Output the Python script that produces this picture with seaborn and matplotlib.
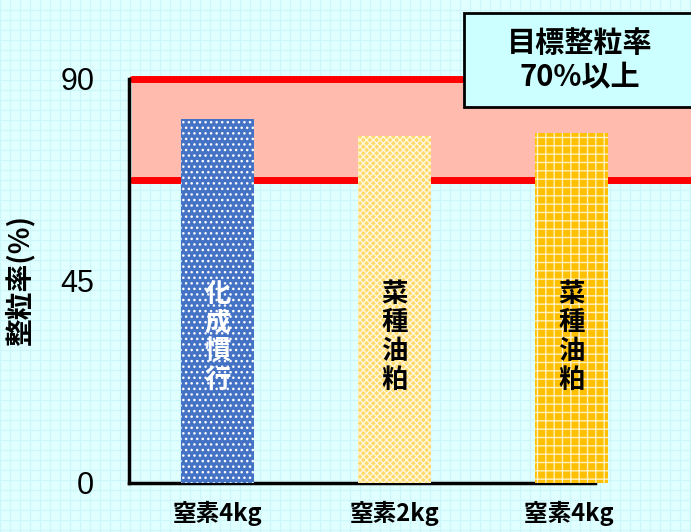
import matplotlib
matplotlib.use("Agg")
import matplotlib.pyplot as plt
from matplotlib.patches import Rectangle
import numpy as np
import pandas as pd
import seaborn as sns

# Data
categories = ["窒素4kg", "窒素2kg", "窒素4kg "]
treatments = ["化成慣行", "菜種油粕", "菜種油粕"]
rates = [81.0, 77.3, 77.9]
target_low = 67.5
target_high = 90
y_ticks = [0, 45, 90]
target_text = "目標整粒率\n70%以上"
y_label = "整粒率(%)"

bar_colors = ["#4472C4", "#FFD966", "#FFC000"]
hatch_colors = ["white", "#FFF6DC", "#FFF0C0"]
hatches = ["...", "xxxxx", "++"]
label_colors = ["white", "black", "black"]

sns.set_style("white")
plt.rcParams["font.family"] = ["Noto Sans CJK JP", "DejaVu Sans"]
plt.rcParams["hatch.linewidth"] = 1.0

W, H = 691, 532
fig = plt.figure(figsize=(W / 100, H / 100), dpi=100)
fig.patch.set_facecolor("#E0FFFF")

# graph-paper background
bg = fig.add_axes([0, 0, 1, 1], zorder=0)
bg.set_xlim(0, W)
bg.set_ylim(0, H)
bg.set_facecolor("#E0FFFF")
bg.set_xticks(np.arange(0, W, 10))
bg.set_yticks(np.arange(2, H, 10))
bg.grid(True, color="#CBF6FA", lw=0.9)
bg.tick_params(length=0, labelbottom=False, labelleft=False)
for s in bg.spines.values():
    s.set_visible(False)

x0, x1 = 129, 691
y0, y1 = 483, 79
ax = fig.add_axes([x0 / W, (H - y0) / H, (x1 - x0) / W, (y0 - y1) / H], zorder=1)
ax.set_facecolor("none")

df = pd.DataFrame({"cat": categories, "rate": rates})
sns.barplot(data=df, x="cat", y="rate", hue="cat", palette=bar_colors,
            saturation=1, width=0.41, legend=False, ax=ax, zorder=3)

for p, hc, ht in zip(ax.patches, hatch_colors, hatches):
    p.set_edgecolor(hc)
    p.set_hatch(ht)
    p.set_linewidth(0)

ax.set_xlim(-0.5, 2.675)
ax.set_ylim(0, 90)

# target band
ax.axhspan(target_low, target_high, xmin=0.005, xmax=1, color="#FFBCAE", zorder=1, lw=0)
ax.axhline(target_low, xmin=0.005, color="#FF0000", lw=5, zorder=2)
ax.axhline(target_high, xmin=0.005, color="#FF0000", lw=5, zorder=2, clip_on=False)

# vertical treatment labels inside the bars
for i, (t, c) in enumerate(zip(treatments, label_colors)):
    ax.text(i, 32.5, "\n".join(t), ha="center", va="center", color=c,
            fontsize=19, fontweight="bold", linespacing=1.08, zorder=4)

ax.set_yticks(y_ticks)
ax.set_yticklabels([str(v) for v in y_ticks], fontsize=22,
                   family=["Liberation Sans", "DejaVu Sans"])
ax.tick_params(axis="y", length=0, pad=25, labelcolor="black")
ax.tick_params(axis="x", length=0, pad=13, labelsize=17, labelcolor="black")
for lbl in ax.get_xticklabels():
    lbl.set_fontweight("bold")

ax.set_xlabel("")
ax.set_ylabel(y_label, fontsize=20, fontweight="bold", color="black")
ax.yaxis.set_label_coords(-0.168, 0.5)

for s in ["top", "right"]:
    ax.spines[s].set_visible(False)
ax.spines["left"].set_linewidth(2.5)
ax.spines["left"].set_color("black")
ax.spines["bottom"].set_linewidth(2.5)
ax.spines["bottom"].set_color("black")
ax.spines["bottom"].set_bounds(-0.5, 2.13)

# target note box
box = Rectangle((464 / W, (H - 107) / H), 0.4, 94 / H, transform=fig.transFigure,
                facecolor="#CCFFFF", edgecolor="black", lw=2, zorder=5)
fig.add_artist(box)
fig.text(580 / W, (H - 60) / H, target_text, ha="center", va="center",
         fontsize=21, fontweight="bold", linespacing=1.2, color="black", zorder=6)

fig.savefig("out.png", dpi=100, facecolor=fig.get_facecolor())
